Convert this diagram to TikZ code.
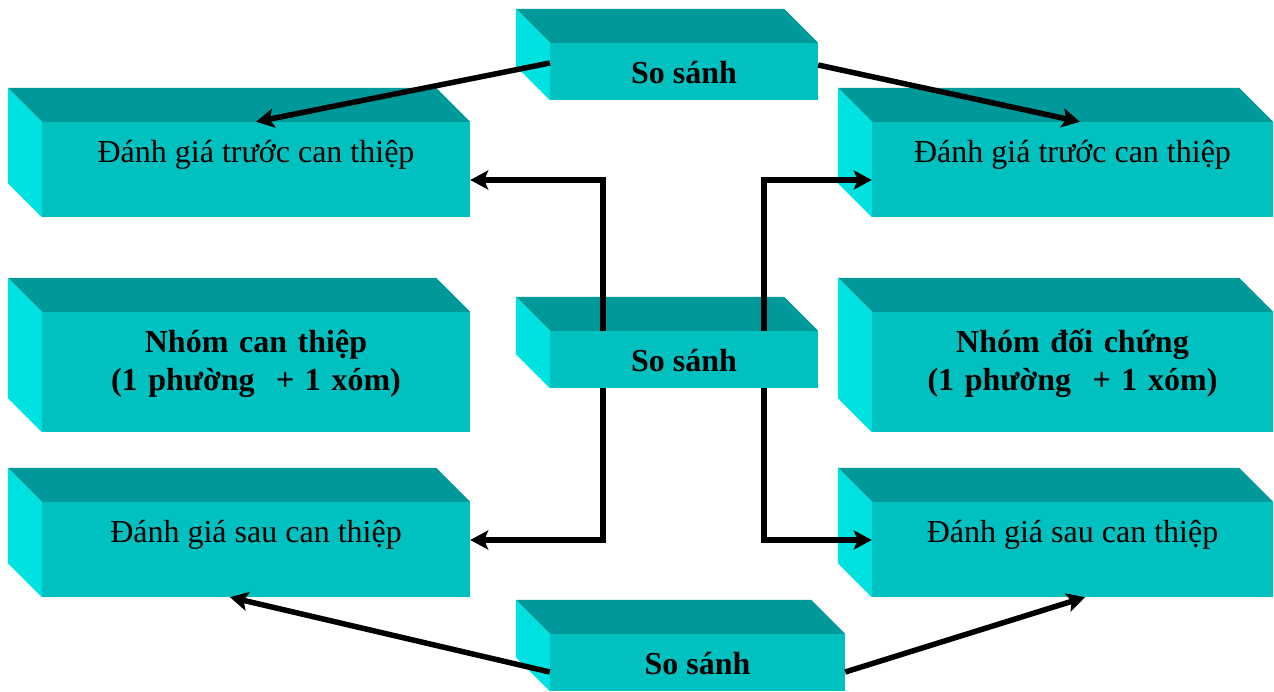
\documentclass[tikz,border=0pt]{standalone}
\usepackage{fontspec}
\setmainfont{Liberation Serif}
\usetikzlibrary{arrows.meta}

\begin{document}
\begin{tikzpicture}[x=1pt,y=-1pt,
  face/.style={fill=frontcol, inner sep=0pt, font=\fontsize{32}{38}\selectfont},
  wideface/.style={face, minimum height=95pt, text height=20pt, text depth=35pt},
  groupface/.style={face, minimum height=120pt, text width=380pt, align=center,
    text height=20pt, text depth=60pt, font=\fontsize{32}{38}\selectfont\bfseries},
  cmpface/.style={face, minimum height=57pt, text height=23pt, text depth=0pt,
    font=\fontsize{32}{38}\selectfont\bfseries},
  topface/.style={fill=topcol},
  sideface/.style={fill=sidecol},
  link/.style={line width=5.5pt, -{Stealth[length=18pt,width=19pt,inset=4pt]}}
]

% Colours of the three visible faces
\definecolor{frontcol}{RGB}{0,192,192}
\definecolor{topcol}{RGB}{0,153,153}
\definecolor{sidecol}{RGB}{0,226,226}

% Depth of the boxes
\def\boxdepth{34}

\useasboundingbox (0,0) rectangle (1274,691);

% Comparison boxes in the middle column
\node[cmpface, minimum width=268pt] (cmpTop) at (684,71.5) {So sánh};
\node[cmpface, minimum width=268pt] (cmpMid) at (684,359.5) {So sánh};
\node[cmpface, minimum width=295pt] (cmpBot) at (697.5,662.5) {So sánh};

% Intervention group (left)
\node[wideface, minimum width=428pt] (preL) at (256,169.5) {Đánh giá trước can thiệp};
\node[groupface, minimum width=428pt] (groupL) at (256,372) {Nhóm can thiệp\\(1 phường\ \ + 1 xóm)};
\node[wideface, minimum width=428pt] (postL) at (256,549.5) {Đánh giá sau can thiệp};

% Control group (right)
\node[wideface, minimum width=401pt] (preR) at (1072.5,169.5) {Đánh giá trước can thiệp};
\node[groupface, minimum width=401pt] (groupR) at (1072.5,372) {Nhóm đối chứng\\(1 phường\ \ + 1 xóm)};
\node[wideface, minimum width=401pt] (postR) at (1072.5,549.5) {Đánh giá sau can thiệp};

% Top and left faces of every box
\foreach \n in {cmpTop,cmpMid,cmpBot,preL,groupL,postL,preR,groupR,postR} {
    \fill[topface] (\n.north west) -- ([shift={(-\boxdepth,-\boxdepth)}]\n.north west)
        -- ([shift={(-\boxdepth,-\boxdepth)}]\n.north east) -- (\n.north east) -- cycle;
    \fill[sideface] (\n.north west) -- ([shift={(-\boxdepth,-\boxdepth)}]\n.north west)
        -- ([shift={(-\boxdepth,-\boxdepth)}]\n.south west) -- (\n.south west) -- cycle;
}

% Before / after comparisons
\draw[link] ([yshift=8.5pt]cmpTop.west) -- (preL.north);
\draw[link] ([yshift=6.5pt]cmpTop.east) -- ([xshift=7.5pt]preR.north);
\draw[link] ([yshift=-9.5pt]cmpBot.west) -- ([xshift=-26pt]postL.south);
\draw[link] ([yshift=-9.5pt]cmpBot.east) -- ([xshift=12.5pt]postR.south);

% Between groups
\draw[link] ([xshift=-81pt]cmpMid.north) |- ([yshift=-10.5pt]preL.east);
\draw[link] ([xshift=80pt]cmpMid.north) |- ([yshift=-10.5pt]preR.west);
\draw[link] ([xshift=-81pt]cmpMid.south) |- ([yshift=9.5pt]postL.east);
\draw[link] ([xshift=80pt]cmpMid.south) |- ([yshift=9.5pt]postR.west);

\end{tikzpicture}
\end{document}
